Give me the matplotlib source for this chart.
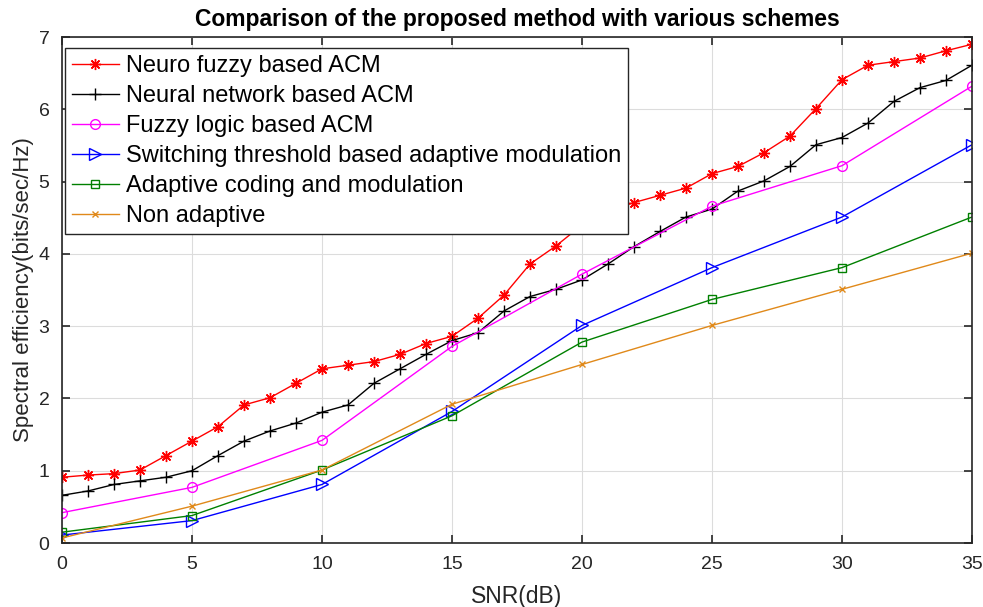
import matplotlib
matplotlib.use("Agg")
import matplotlib.pyplot as plt
import numpy as np

plt.rcParams['font.family'] = ['Liberation Sans', 'DejaVu Sans']

# data
snr_fine = list(range(0, 36))
snr_coarse = [0, 5, 10, 15, 20, 25, 30, 35]

neuro_fuzzy = [0.91, 0.94, 0.96, 1.01, 1.21, 1.41, 1.61, 1.91, 2.01, 2.21,
               2.41, 2.46, 2.51, 2.61, 2.76, 2.86, 3.11, 3.43, 3.86, 4.11,
               4.40, 4.60, 4.71, 4.81, 4.91, 5.11, 5.21, 5.40, 5.63, 6.01,
               6.41, 6.61, 6.66, 6.71, 6.81, 6.90]
neural_net = [0.66, 0.72, 0.81, 0.86, 0.91, 1.00, 1.21, 1.41, 1.55, 1.66,
              1.81, 1.91, 2.21, 2.41, 2.61, 2.80, 2.91, 3.21, 3.41, 3.51,
              3.64, 3.86, 4.10, 4.31, 4.51, 4.62, 4.87, 5.01, 5.21, 5.51,
              5.61, 5.81, 6.11, 6.30, 6.40, 6.61]
fuzzy_logic = [0.42, 0.77, 1.42, 2.72, 3.72, 4.66, 5.22, 6.32]
switching = [0.11, 0.31, 0.81, 1.82, 3.01, 3.81, 4.51, 5.51]
acm = [0.15, 0.38, 1.01, 1.76, 2.78, 3.37, 3.81, 4.51]
non_adaptive = [0.07, 0.51, 1.01, 1.92, 2.47, 3.01, 3.51, 4.01]

labels = ["Neuro fuzzy based ACM", "Neural network based ACM",
          "Fuzzy logic based ACM", "Switching threshold based adaptive modulation",
          "Adaptive coding and modulation", "Non adaptive"]

fig = plt.figure(figsize=(9.83, 6.07), dpi=100)
ax = fig.add_axes([0.0631, 0.1054, 0.9257, 0.8336])

# matlab style '*' marker: + and x on top of each other
asterisk = (8, 2, 0)
ax.plot(snr_fine, neuro_fuzzy, color='#FF0000', marker=asterisk, ms=8, mew=1, lw=1, label=labels[0])
ax.plot(snr_fine, neural_net, color='black', marker='+', ms=9, mew=1, lw=1, label=labels[1])
ax.plot(snr_coarse, fuzzy_logic, color='#FF00FF', marker='o', ms=7, mfc='none', lw=1, label=labels[2])
ax.plot(snr_coarse, switching, color='#0000FF', marker='>', ms=8, mfc='none', lw=1, label=labels[3])
ax.plot(snr_coarse, acm, color='#008000', marker='s', ms=6, mfc='none', lw=1, label=labels[4])
ax.plot(snr_coarse, non_adaptive, color='#E0891A', marker='x', ms=5, lw=1, label=labels[5])

ax.set_xlim(0, 35)
ax.set_ylim(0, 7)
ax.set_xticks(range(0, 36, 5))
ax.set_yticks(range(0, 8))
ax.grid(True, color='#DCDCDC', lw=0.8)
ax.set_axisbelow(True)
ax.tick_params(direction='in', top=True, right=True, length=6, width=1.2,
               labelsize=14, colors='#262626', pad=9)
ax.tick_params(axis='y', pad=9)
for s in ax.spines.values():
    s.set_color('#262626')
    s.set_linewidth(1.2)

ax.set_xlabel('SNR(dB)', fontsize=16.5, color='#262626', labelpad=9)
ax.set_ylabel('Spectral efficiency(bits/sec/Hz)', fontsize=16, color='#262626', labelpad=3)
ax.set_title('Comparison of the proposed method with various schemes',
             fontsize=16.5, fontweight='bold', pad=8)

leg = ax.legend(loc='upper left', bbox_to_anchor=(0.003, 0.978), fontsize=17,
                frameon=True, fancybox=False, framealpha=1, edgecolor='#262626',
                handlelength=2.0, handletextpad=0.3, labelspacing=0.34,
                borderpad=0.3, borderaxespad=0)
leg.get_frame().set_linewidth(1.0)

fig.savefig('out.png', dpi=100)
